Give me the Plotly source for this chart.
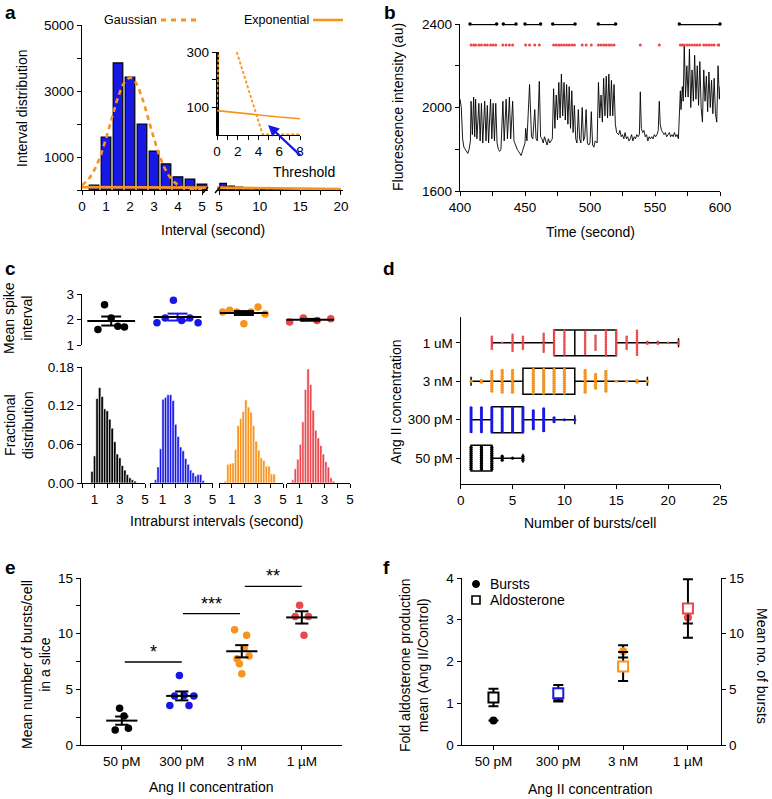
import statistics
import plotly.graph_objects as go

W, H = 772, 799


def dx(a, b):
    return [a / W, b / W]


def dy(top, bottom):
    return [1 - bottom / H, 1 - top / H]


def fx(p):
    return p / W


def fy(p):
    return 1 - p / H


BLUE = '#1717e6'
ORANGE = '#f7941d'
RED = '#ea484d'
BLACK = '#000000'
FONT = 'Liberation Sans, Arial, sans-serif'
TICK = 13.5
TITLE = 14
GROUP_COLORS = [BLACK, BLUE, ORANGE, RED]

# ---------------- panel a data ----------------
a_bins_left = [0.5, 1.0, 1.5, 2.0, 2.5, 3.0, 3.5, 4.0, 4.5, 5.0]
a_counts_left = [150, 1600, 3850, 3420, 2000, 1180, 790, 400, 330, 180]
a_bins_right = [5.5, 6.5, 7.5, 8.5, 9.5, 10.5, 11.5, 12.5, 13.5, 14.5, 15.5, 16.5, 17.5, 18.5, 19.5]
a_counts_right = [200, 120, 90, 70, 55, 40, 30, 22, 16, 12, 9, 7, 5, 4, 3]
a_gauss_x = [0, 0.25, 0.5, 0.75, 1.0, 1.25, 1.5, 1.75, 2.0, 2.25, 2.5, 2.75, 3.0,
             3.25, 3.5, 3.75, 4.0, 4.25, 4.5, 4.75, 5.0]
a_gauss_y = [150, 310, 585, 1000, 1560, 2190, 2800, 3240, 3400, 3240, 2800, 2190, 1560,
             1000, 585, 310, 150, 65, 26, 9, 3]
a_exp_x = [0, 1, 2, 3, 4, 5, 6, 8, 10, 12, 15, 20]
a_exp_y = [88, 84, 80, 76, 72, 68, 65, 59, 53, 48, 41, 32]
a_inset_bar_x = [0.06]
a_inset_bar_y = [300]
a_inset_gauss_x = [0, 0.15, None, 1.9, 4.4, 8]
a_inset_gauss_y = [100, 300, None, 300, 2, 2]

# ---------------- panel b data ----------------
b_trace = [
    (400, 2040), (401, 2000), (402, 1850), (403, 1810), (404, 1800), (405, 1790), (406, 1780),
    (407, 1800), (408, 1840), (408.5, 2030), (409.5, 1870), (410.5, 2050), (411.3, 1860),
    (412, 2040), (413, 1850), (414.5, 2020), (415.5, 1840), (416.5, 2020), (417.5, 1830),
    (419, 2030), (420, 1840), (421, 2010), (422, 1830), (423.5, 2040), (424.5, 1850),
    (425.5, 2020), (426.5, 1840), (427.5, 2020), (428.5, 1830), (429.5, 1800), (430.5, 1790),
    (431.5, 1800), (433, 2030), (434, 1840), (435.5, 2040), (436.5, 1850), (438, 2050),
    (439, 1850), (440.5, 2030), (441.5, 1840), (443, 1810), (444, 1800), (445, 1790),
    (446, 1780), (447, 1770), (448, 1790), (449, 1810), (450, 1830), (450.5, 1900),
    (451.5, 1840), (453.5, 2110), (455, 1860), (456, 1850), (457.5, 1990), (458.5, 1850),
    (459.5, 1840), (461, 2125), (462, 1860), (463, 1850), (464, 1830), (465, 1860),
    (466, 1840), (467, 1820), (468, 1850), (469, 1830), (470, 1840), (471, 1850),
    (472, 2090), (473, 1900), (474, 2060), (475, 1940), (476, 2120), (477, 1950),
    (478, 2160), (479, 1960), (480, 2120), (481, 1940), (482, 2110), (483, 1920),
    (484, 2100), (485, 1900), (486, 2080), (487, 1880), (488, 2010), (489, 1850),
    (490, 1830), (491, 1990), (492, 1850), (493, 1830), (494, 2000), (495, 1840),
    (496, 1860), (497, 1990), (498, 1830), (499, 1820), (500, 1830), (501, 1980),
    (502, 1820), (503, 1810), (504, 1840), (505.5, 1830), (506.5, 2120), (507.5, 1950),
    (508.5, 2060), (509.5, 1930), (510.5, 2140), (511.5, 1960), (512.5, 2150), (513.5, 1950),
    (514.5, 2160), (515.5, 1960), (516.5, 2130), (517.5, 1960), (518.5, 2110), (519.5, 1920),
    (520.5, 1880), (522, 1870), (523, 1890), (524, 1860), (525, 1870), (526, 1850),
    (527, 1880), (528, 1850), (529, 1860), (530, 1840), (531, 1850), (532, 1870),
    (533, 1840), (534, 1860), (535, 1850), (536, 1870), (537, 1860), (538, 1870),
    (538.7, 2075), (539.5, 1900), (540.5, 1880), (541.5, 1890), (542.5, 1860), (543.5, 1870),
    (544.5, 1840), (545.5, 1860), (546.5, 1850), (547.5, 1860), (548.5, 1850), (549.5, 1870),
    (550.5, 1860), (551.5, 1870), (552.5, 1890), (553.3, 2030), (554, 1920), (555, 1890),
    (556, 1880), (557, 1870), (558, 1880), (559, 1860), (560, 1870), (561, 1880),
    (562, 1860), (563, 1870), (564, 1860), (565, 1880), (566, 1860), (567, 1870),
    (568, 1850), (568.5, 1960), (569.5, 2080), (570, 1990), (571, 2100), (571.7, 2030),
    (572.5, 2300), (573.5, 2050), (574.5, 2200), (575.5, 2050), (576.5, 2280), (577.5, 2000),
    (578.5, 2180), (579.5, 2030), (580.5, 2250), (581.5, 2040), (582.5, 2200), (583.5, 2010),
    (584.5, 2220), (585.5, 2000), (586.5, 1930), (587.5, 2180), (588.5, 2030), (589.5, 2150),
    (590.5, 1980), (591.5, 2170), (592.5, 2000), (593.5, 2130), (594.5, 1970), (595.5, 2140),
    (596.5, 1970), (597.5, 1930), (598.5, 2200), (599.5, 2040), (600, 2100),
]
b_time = [t for t, _ in b_trace]
b_fluor = [v for _, v in b_trace]
b_spikes = [408.5, 410.5, 412, 414.5, 416.5, 419, 421, 423.5, 425.5, 427.5, 433, 435.5, 438,
            440.5, 450.5, 453.5, 457.5, 461, 472, 474, 476, 478, 480, 482, 484, 486, 488,
            494, 497, 501, 506.5, 508.5, 510.5, 512.5, 514.5, 516.5, 518.5, 538.7, 553.3,
            569.5, 571, 572.5, 574.5, 576.5, 578.5, 580.5, 582.5, 584.5, 587.5, 589.5,
            591.5, 593.5, 595.5, 598.5, 599.5]
b_burst_start = [407.7, 433.3, 450, 471.3, 506.4, 568.7]
b_burst_end = [428.2, 443.1, 462, 488.5, 519.7, 600]
b_spike_level = 2300
b_burst_level = 2400

# ---------------- panel c data ----------------
c_mean_interval = [
    [1.61, 2.58, 2.06, 1.74, 1.71],
    [1.87, 2.06, 2.75, 1.96, 2.06, 1.87],
    [2.29, 2.36, 2.29, 1.83, 2.29, 2.49, 2.22],
    [1.9, 2.06, 1.96, 2.03],
]
c_hist_start = [0.8, 0.45, 0.5, 0.5]
c_hist_bin = 0.2
c_hist = [
    [0.018, 0.042, 0.131, 0.148, 0.134, 0.115, 0.112, 0.099, 0.085, 0.064, 0.045, 0.039,
     0.027, 0.02, 0.013, 0.008, 0.005, 0.003],
    [0.005, 0.025, 0.053, 0.13, 0.133, 0.137, 0.137, 0.128, 0.091, 0.072, 0.056, 0.05,
     0.038, 0.029, 0.02, 0.016, 0.011, 0.013, 0.013, 0.004],
    [0.003, 0.029, 0.03, 0.031, 0.052, 0.089, 0.1, 0.111, 0.129, 0.118, 0.11, 0.089, 0.065,
     0.051, 0.039, 0.035, 0.026, 0.026, 0.014, 0.014],
    [0.005, 0.022, 0.037, 0.06, 0.095, 0.145, 0.177, 0.153, 0.113, 0.082, 0.07, 0.058, 0.045,
     0.033, 0.025, 0.008, 0.003],
]

# ---------------- panel d data ----------------
d_labels = ['50 pM', '300 pM', '3 nM', '1 uM']
d_lowerfence = [1, 1, 1, 3]
d_q1 = [1, 3, 6, 9]
d_median = [2, 4, 8, 11]
d_q3 = [3, 6, 11, 15]
d_upperfence = [6, 11, 18, 21]
d_values = [
    [1, 2, 3, 4, 5, 6],
    [1, 2, 3, 4, 5, 6, 7, 8, 9, 10, 11],
    [1, 2, 3, 4, 5, 7, 8, 9, 10, 12, 13, 14, 15, 16, 17, 18],
    [3, 4, 5, 6, 8, 9, 10, 12, 13, 14, 15, 16, 17, 18, 19, 20, 21],
]
d_counts = [
    [12, 12, 12, 3, 1, 3],
    [13, 13, 13, 13, 13, 13, 10, 12, 3, 1, 1],
    [1, 2, 11, 12, 12, 13, 13, 13, 13, 12, 8, 11, 1, 1, 2, 1],
    [7, 1, 9, 7, 10, 13, 13, 12, 8, 13, 13, 7, 13, 2, 2, 1, 2],
]

# ---------------- panel e data ----------------
e_labels = ['50 pM', '300 pM', '3 nM', '1 µM']
e_values = [
    [1.35, 3.3, 2.6, 1.5],
    [3.55, 4.4, 6.25, 4.45, 3.55, 4.4],
    [10.35, 7.75, 7.3, 6.4, 8.7, 9.85, 8.0],
    [11.55, 12.55, 9.85, 11.55],
]
e_mean = [2.19, 4.41, 8.42, 11.46]
e_sem = [0.37, 0.4, 0.55, 0.55]
e_sig_text = ['*', '***', '**']

# ---------------- panel f data ----------------
f_burst_mean = [2.19, 4.41, 8.42, 11.46]
f_burst_sem = [0, 0.4, 0.55, 0.55]
f_aldo_mean = [1.14, 1.24, 1.88, 3.27]
f_aldo_err = [0.21, 0.2, 0.35, 0.7]

fig = go.Figure()


def spread(n, half):
    if n == 1:
        return [0.0]
    return [-half + 2 * half * k / (n - 1) for k in range(n)]


# ---------------- panel a traces ----------------
bar_line = dict(color='black', width=1.2)
fig.add_trace(go.Bar(x=a_bins_left, y=a_counts_left, width=0.4,
                     marker=dict(color=BLUE, line=bar_line), xaxis='x', yaxis='y'))
fig.add_trace(go.Bar(x=a_bins_right, y=a_counts_right, width=0.8,
                     marker=dict(color=BLUE, line=bar_line), xaxis='x2', yaxis='y2'))
for xa, ya in (('x', 'y'), ('x2', 'y2')):
    fig.add_trace(go.Scatter(x=a_exp_x, y=a_exp_y, mode='lines',
                             line=dict(color=ORANGE, width=2.6), xaxis=xa, yaxis=ya))
fig.add_trace(go.Scatter(x=a_gauss_x, y=a_gauss_y, mode='lines',
                         line=dict(color=ORANGE, width=2.6, dash='5px,4px', shape='spline'),
                         xaxis='x', yaxis='y'))
# inset
fig.add_trace(go.Bar(x=a_inset_bar_x, y=a_inset_bar_y, width=0.12,
                     marker=dict(color='black', line=dict(width=0)), xaxis='x3', yaxis='y3'))
fig.add_trace(go.Scatter(x=a_exp_x, y=a_exp_y, mode='lines',
                         line=dict(color=ORANGE, width=1.6), xaxis='x3', yaxis='y3'))
fig.add_trace(go.Scatter(x=a_inset_gauss_x, y=a_inset_gauss_y, mode='lines',
                         line=dict(color=ORANGE, width=1.8, dash='3px,2px'),
                         xaxis='x3', yaxis='y3', cliponaxis=False))

# ---------------- panel b traces ----------------
fig.add_trace(go.Scatter(x=b_time, y=b_fluor, mode='lines',
                         line=dict(color='black', width=0.9), xaxis='x4', yaxis='y4'))
bx, by = [], []
for s, e in zip(b_burst_start, b_burst_end):
    bx += [s, e, None]
    by += [b_burst_level, b_burst_level, None]
fig.add_trace(go.Scatter(x=bx, y=by, mode='lines+markers', line=dict(color='black', width=2.4),
                         marker=dict(size=3.5, color='black'), xaxis='x4', yaxis='y4',
                         cliponaxis=False))
fig.add_trace(go.Scatter(x=b_spikes, y=[b_spike_level] * len(b_spikes), mode='markers',
                         marker=dict(size=3, color=RED), xaxis='x4', yaxis='y4'))

# ---------------- panel c traces ----------------
c_half = [0.2, 0.31, 0.32, 0.31]
for g, vals in enumerate(c_mean_interval):
    col = GROUP_COLORS[g]
    m = statistics.mean(vals)
    s = statistics.stdev(vals) / len(vals) ** 0.5
    xs = [g + o for o in spread(len(vals), c_half[g])]
    fig.add_trace(go.Scatter(x=xs, y=vals, mode='markers', marker=dict(size=7.5, color=col),
                             xaxis='x5', yaxis='y5', cliponaxis=False))
    semcol = BLUE if g == 1 else 'black'
    cap = 0.15
    fig.add_trace(go.Scatter(x=[g, g, None, g - cap, g + cap, None, g - cap, g + cap],
                             y=[m - s, m + s, None, m + s, m + s, None, m - s, m - s],
                             mode='lines', line=dict(color=semcol, width=2),
                             xaxis='x5', yaxis='y5'))
    fig.add_trace(go.Scatter(x=[g - 0.36, g + 0.36], y=[m, m], mode='lines',
                             line=dict(color='black', width=2), xaxis='x5', yaxis='y5'))

hist_axes = ['x6', 'x7', 'x8', 'x9']
for g, heights in enumerate(c_hist):
    centers = [c_hist_start[g] + c_hist_bin * i for i in range(len(heights))]
    fig.add_trace(go.Bar(x=centers, y=heights, width=c_hist_bin,
                         marker=dict(color=GROUP_COLORS[g], line=dict(color='white', width=0.6)),
                         xaxis=hist_axes[g], yaxis='y6'))

# ---------------- panel d traces ----------------
fig.add_trace(go.Box(y=[0, 1, 2, 3], q1=d_q1, median=d_median, q3=d_q3,
                     lowerfence=d_lowerfence, upperfence=d_upperfence, orientation='h',
                     width=0.67, fillcolor='rgba(0,0,0,0)', line=dict(color='black', width=1.5),
                     whiskerwidth=0.35, boxpoints=False, xaxis='x10', yaxis='y10'))
for g in range(4):
    xs, ys = [], []
    for v, n in zip(d_values[g], d_counts[g]):
        for k in range(n):
            xs.append(v)
            ys.append(g + (k - (n - 1) / 2) * 0.052)
    size = 2.6 if g == 3 else 3.2
    fig.add_trace(go.Scatter(x=xs, y=ys, mode='markers',
                             marker=dict(size=size, color=GROUP_COLORS[g]),
                             xaxis='x10', yaxis='y10'))

# ---------------- panel e traces ----------------
e_half = [0.11, 0.2, 0.12, 0.11]
for g, vals in enumerate(e_values):
    xs = [g + o for o in spread(len(vals), e_half[g])]
    fig.add_trace(go.Scatter(x=xs, y=vals, mode='markers',
                             marker=dict(size=7.5, color=GROUP_COLORS[g]),
                             xaxis='x11', yaxis='y11'))
for g in range(4):
    m, s = e_mean[g], e_sem[g]
    cap = 0.11
    fig.add_trace(go.Scatter(x=[g, g, None, g - cap, g + cap, None, g - cap, g + cap],
                             y=[m - s, m + s, None, m + s, m + s, None, m - s, m - s],
                             mode='lines', line=dict(color='black', width=2),
                             xaxis='x11', yaxis='y11'))
    fig.add_trace(go.Scatter(x=[g - 0.26, g + 0.26], y=[m, m], mode='lines',
                             line=dict(color='black', width=2), xaxis='x11', yaxis='y11'))

# ---------------- panel f traces ----------------
fig.add_trace(go.Scatter(x=[0, 1, 2, 3], y=f_burst_mean, mode='markers',
                         marker=dict(size=8, color=GROUP_COLORS),
                         error_y=dict(type='data', array=f_burst_sem, color='black',
                                      thickness=2, width=5),
                         xaxis='x12', yaxis='y12'))
fig.add_trace(go.Scatter(x=[0, 1, 2, 3], y=f_aldo_mean, mode='markers',
                         marker=dict(size=10, symbol='square', color='white',
                                     line=dict(color=GROUP_COLORS, width=2)),
                         error_y=dict(type='data', array=f_aldo_err, color='black',
                                      thickness=2, width=5),
                         xaxis='x12', yaxis='y13'))


# ---------------- layout ----------------
def ax(domain, rng, tickvals=None, ticktext=None, anchor=None, **kw):
    d = dict(domain=domain, range=rng, showline=True, linecolor='black', linewidth=1.4,
             ticks='outside', ticklen=4, tickwidth=1.3, tickcolor='black', showgrid=False,
             zeroline=False, fixedrange=True, automargin=False,
             tickfont=dict(family=FONT, size=TICK, color='black'))
    if tickvals is not None:
        d.update(tickmode='array', tickvals=tickvals, ticktext=ticktext)
    if anchor:
        d['anchor'] = anchor
    d.update(kw)
    return d


a_xl_vals = [0, 0.5, 1, 1.5, 2, 2.5, 3, 3.5, 4, 4.5, 5]
a_xl_text = ['0', '', '1', '', '2', '', '3', '', '4', '', '5']
a_xr_vals = [5, 7.5, 10, 12.5, 15, 17.5, 20]
a_xr_text = ['5', '', '10', '', '15', '', '20']
a_y_vals = [0, 1000, 2000, 3000, 4000, 5000]
a_y_text = ['', '1000', '', '3000', '', '5000']
in_x_vals = [0, 1, 2, 3, 4, 5, 6, 7, 8]
in_x_text = ['0', '', '2', '', '4', '', '6', '', '8']
b_x_vals = [400, 425, 450, 475, 500, 525, 550, 575, 600]
b_x_text = ['400', '', '450', '', '500', '', '550', '', '600']
b_y_vals = [1600, 1800, 2000, 2200, 2400]
b_y_text = ['1600', '', '2000', '', '2400']
h_x_vals = [0, 1, 2, 3, 4, 5]
h_x_text = ['', '1', '', '3', '', '5']

layout = dict(
    width=W, height=H, margin=dict(l=0, r=0, t=0, b=0), template='none',
    paper_bgcolor='white', plot_bgcolor='rgba(0,0,0,0)', showlegend=False, barmode='overlay',
    font=dict(family=FONT, size=TICK, color='black'),
    xaxis=ax(dx(82, 208), [0, 5.25], a_xl_vals, a_xl_text, 'y'),
    yaxis=ax(dy(25, 190), [0, 5000], a_y_vals, a_y_text, 'x'),
    xaxis2=ax(dx(217, 343), [4.75, 20.25], a_xr_vals, a_xr_text, 'y2'),
    yaxis2=dict(domain=dy(25, 190), range=[0, 5000], visible=False, anchor='x2', fixedrange=True),
    xaxis3=ax(dx(217, 300), [0, 8], in_x_vals, in_x_text, 'y3'),
    yaxis3=ax(dy(52, 135), [0, 300], [100, 200, 300], ['100', '', '300'], 'x3'),
    xaxis4=ax(dx(460, 720), [400, 600], b_x_vals, b_x_text, 'y4'),
    yaxis4=ax(dy(24, 191), [1600, 2400], b_y_vals, b_y_text, 'x4'),
    xaxis5=dict(domain=dx(82, 348), range=[-0.44, 3.57], visible=False, anchor='y5',
                fixedrange=True),
    yaxis5=ax(dy(294, 345), [1, 3], [1, 2, 3], ['1', '2', '3'], 'x5'),
    xaxis6=ax(dx(82, 145), [0, 5], h_x_vals, h_x_text, 'y6'),
    xaxis7=ax(dx(150, 212.5), [0, 5], h_x_vals, h_x_text, 'y6'),
    xaxis8=ax(dx(219, 283), [0, 5], h_x_vals, h_x_text, 'y6'),
    xaxis9=ax(dx(286.5, 350), [0, 5], h_x_vals, h_x_text, 'y6'),
    yaxis6=ax(dy(367, 483), [0, 0.18], [0, 0.06, 0.12, 0.18],
              ['0.00', '0.06', '0.12', '0.18'], 'x6'),
    xaxis10=ax(dx(460.7, 720), [0, 25], [0, 5, 10, 15, 20, 25],
               ['0', '5', '10', '15', '20', '25'], 'y10'),
    yaxis10=ax(dy(317, 484), [-0.67, 3.67], [0, 1, 2, 3], d_labels, 'x10'),
    xaxis11=ax(dx(81, 342), [-0.68, 3.67], [0, 1, 2, 3], e_labels, 'y11'),
    yaxis11=ax(dy(578, 745), [0, 15], [0, 2.5, 5, 7.5, 10, 12.5, 15],
               ['0', '', '5', '', '10', '', '15'], 'x11'),
    xaxis12=ax(dx(461.7, 721), [-0.49, 3.51], [0, 1, 2, 3], e_labels, 'y12'),
    yaxis12=ax(dy(578, 745), [0, 15], [0, 5, 10, 15], ['0', '5', '10', '15'], 'x12',
               side='right'),
    yaxis13=ax(dy(578, 745), [0, 4], [0, 1, 2, 3, 4], ['0', '1', '2', '3', '4'], 'x12',
               side='left', overlaying='y12'),
)
fig.update_layout(**layout)

annotations = []
shapes = []


def ann(text, x, y, size=TITLE, angle=0, xanchor='center', yanchor='middle', bold=False,
        color='black'):
    if bold:
        text = '<b>' + text + '</b>'
    annotations.append(dict(text=text, x=fx(x), y=fy(y), xref='paper', yref='paper',
                            showarrow=False, textangle=angle, xanchor=xanchor,
                            yanchor=yanchor, font=dict(family=FONT, size=size, color=color)))


# panel letters
for letter, (x, y) in zip('abcdef', [(3, 12), (382, 12), (3, 268), (381, 268), (3, 567),
                                     (381, 567)]):
    ann(letter, x, y, size=19, bold=True, xanchor='left')

# panel a texts
ann('Interval distribution', 22, 108, angle=-90)
ann('Interval (second)', 213, 230)
ann('Gaussian', 102, 20, size=12.5, xanchor='left')
ann('Exponential', 242, 20, size=12.5, xanchor='left')
ann('Threshold', 304, 172)
shapes.append(dict(type='line', xref='paper', yref='paper', x0=fx(161), x1=fx(197),
                   y0=fy(20), y1=fy(20), line=dict(color=ORANGE, width=3, dash='5px,5px')))
shapes.append(dict(type='line', xref='paper', yref='paper', x0=fx(313), x1=fx(343),
                   y0=fy(20), y1=fy(20), line=dict(color=ORANGE, width=2.6)))
for x0 in (203, 215):
    shapes.append(dict(type='line', xref='paper', yref='paper', x0=fx(x0), x1=fx(x0 + 5),
                       y0=fy(193), y1=fy(187), line=dict(color='black', width=1.4)))
annotations.append(dict(x=4.92, y=36, xref='x3', yref='y3', text='', showarrow=True,
                        ax=34, ay=32, arrowhead=2, arrowsize=1, arrowwidth=2.2,
                        arrowcolor=BLUE))

# panel b texts
ann('Fluorescence intensity (au)', 398, 107, angle=-90)
ann('Time (second)', 590, 232)

# panel c texts
ann('Mean spike<br>interval', 18, 318, angle=-90)
ann('Fractional<br>distribution', 19, 425, angle=-90)
ann('Intraburst intervals (second)', 217, 521)

# panel d texts
ann('Ang II concentration', 396, 402, angle=-90)
ann('Number of bursts/cell', 590, 523)

# panel e texts
ann('Mean number of bursts/cell<br>in a slice', 36, 665, angle=-90)
ann('Ang II concentration', 212, 787)
sig = [(0.05, 1.0, 7.45), (1.02, 1.97, 11.8), (2.05, 3.0, 14.25)]
for (x0, x1, yv), t in zip(sig, e_sig_text):
    shapes.append(dict(type='line', xref='x11', yref='y11', x0=x0, x1=x1, y0=yv, y1=yv,
                       line=dict(color='black', width=1.4)))
    annotations.append(dict(text=t, x=(x0 + x1) / 2, y=yv, xref='x11', yref='y11',
                            showarrow=False, yanchor='bottom', yshift=-2,
                            font=dict(family=FONT, size=18, color='black')))

# panel f texts
ann('Fold aldosterone production<br>mean (Ang II/Control)', 414, 665, angle=-90)
ann('Mean no. of bursts', 762, 666, angle=90)
ann('Ang II concentration', 590, 789)
ann('Bursts', 488, 584, xanchor='left')
ann('Aldosterone', 488, 600, xanchor='left')
shapes.append(dict(type='circle', xref='paper', yref='paper', x0=fx(472.5), x1=fx(479.5),
                   y0=fy(587.5), y1=fy(580.5), fillcolor='black', line=dict(color='black', width=1)))
shapes.append(dict(type='rect', xref='paper', yref='paper', x0=fx(472), x1=fx(480),
                   y0=fy(604), y1=fy(596), fillcolor='white', line=dict(color='black', width=1.6)))

fig.update_layout(annotations=annotations, shapes=shapes)
fig.write_html('out.html', config={'displayModeBar': False},
               post_script="document.body.style.margin='0px';")
